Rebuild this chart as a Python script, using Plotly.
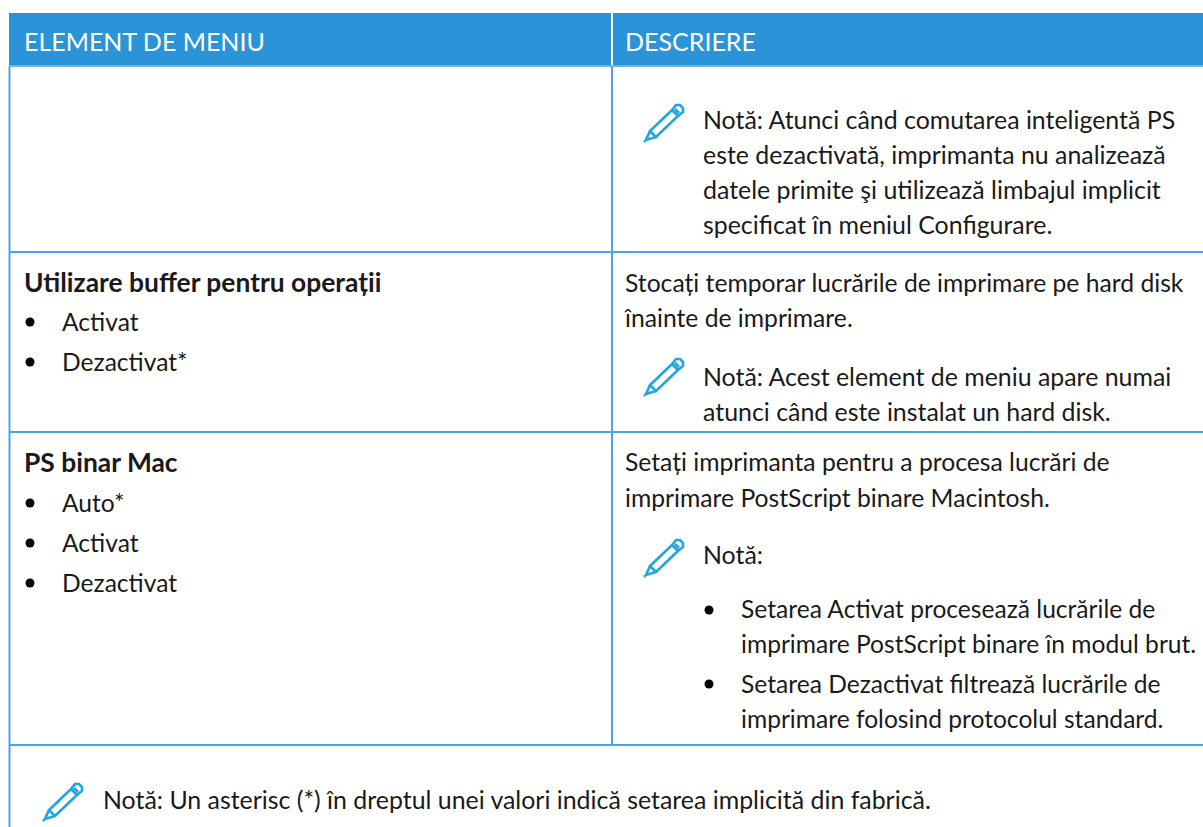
import plotly.graph_objects as go

WIDTH, HEIGHT = 1203, 827
FONT = "Lato"
BLUE_HEADER = "#2B93D7"
BLUE_LINE = "#4FA3DF"
PENCIL = "#1FA5DF"
INK = "#1a1a1a"

header_labels = ["ELEMENT DE MENIU", "DESCRIERE"]
menu_titles = ["Utilizare buffer pentru operații", "PS binar Mac"]
menu_items = ["Activat", "Dezactivat*", "Auto*", "Activat", "Dezactivat"]
descriptions = [
    "Stocați temporar lucrările de imprimare pe hard disk",
    "înainte de imprimare.",
    "Setați imprimanta pentru a procesa lucrări de",
    "imprimare PostScript binare Macintosh.",
]
notes = [
    "Notă: Atunci când comutarea inteligentă PS",
    "este dezactivată, imprimanta nu analizează",
    "datele primite şi utilizează limbajul implicit",
    "specificat în meniul Configurare.",
    "Notă: Acest element de meniu apare numai",
    "atunci când este instalat un hard disk.",
    "Notă:",
]
note_bullets = [
    "Setarea Activat procesează lucrările de",
    "imprimare PostScript binare în modul brut.",
    "Setarea Dezactivat filtrează lucrările de",
    "imprimare folosind protocolul standard.",
]
footer = ["Notă: Un asterisc (*) în dreptul unei valori indică setarea implicită din fabrică."]

# page layout, in page pixels
header_y = [45, 45]
header_x = [24, 625]
title_y = [285, 465]
item_y = [325, 365, 506, 546, 586]
desc_y = [286, 321, 465, 501]
note_y = [123, 158, 193, 228, 380, 415, 558]
note_bullet_y = [612, 647, 687, 722]
dot_y_items = [322, 362, 503, 543, 583]
note_bullet_dots = [610, 684]
pencils = [(644, 104), (644, 358), (644, 539), (43, 783)]
rules_y = [66, 252, 432, 745]

fig = go.Figure()

def text_trace(xs, ys, labels, size=24.6, family=FONT, color=INK):
    fig.add_trace(go.Scatter(x=xs, y=ys, text=labels, mode="text", textposition="middle right",
                             textfont=dict(family=family, size=size, color=color),
                             hoverinfo="skip", showlegend=False, cliponaxis=False))

def dots(xs, ys):
    fig.add_trace(go.Scatter(x=xs, y=ys, mode="markers", marker=dict(color="#000000", size=9),
                             hoverinfo="skip", showlegend=False))

text_trace(header_x, header_y, header_labels, size=25, color="#ffffff")
text_trace([24] * 2, title_y, ["<b>%s</b>" % t for t in menu_titles], size=26.4)
text_trace([62] * 5, item_y, menu_items)
text_trace([625] * 4, desc_y, descriptions, size=24.7)
text_trace([703] * 7, note_y, notes, size=24.9)
text_trace([741] * 4, note_bullet_y, note_bullets)
text_trace([103], [803], footer, size=24.9)
dots([30] * 5, dot_y_items)
dots([709] * 2, note_bullet_dots)

shapes = [
    dict(type="rect", x0=9, x1=WIDTH, y0=13, y1=66, fillcolor=BLUE_HEADER, line_width=0, layer="below"),
    dict(type="line", x0=612, x1=612, y0=13, y1=66, line=dict(color="#ffffff", width=2)),
    dict(type="line", x0=612, x1=612, y0=66, y1=745, line=dict(color=BLUE_LINE, width=2)),
    dict(type="line", x0=9.5, x1=9.5, y0=66, y1=HEIGHT, line=dict(color=BLUE_LINE, width=2)),
]
for y in rules_y:
    shapes.append(dict(type="line", x0=9, x1=WIDTH, y0=y, y1=y,
                       line=dict(color=BLUE_LINE if y != 66 else "#6DB5E6", width=2)))

def pencil_path(ox, oy):
    body = [(6, 27), (28, 6), (34, 12), (12, 33)]
    cap = [(28, 6), (32, 1), (36, 1), (39, 4), (39, 8), (34, 12)]
    tip = [(6, 27), (2, 36), (12, 33)]
    band = [(8, 29), (10, 31)]
    ring = [(31, 5), (35, 9)]
    out = ""
    for pts, close in ((body, True), (cap, False), (tip, False), (band, False), (ring, False)):
        out += "M " + " L ".join(f"{ox + a},{oy + b}" for a, b in pts) + (" Z " if close else " ")
    out += f"M {ox},{oy + 38} L {ox + 1},{oy + 37} "
    return out

for ox, oy in pencils:
    shapes.append(dict(type="path", path=pencil_path(ox, oy), line=dict(color=PENCIL, width=2.6)))

fig.update_layout(
    width=WIDTH, height=HEIGHT, margin=dict(l=0, r=0, t=0, b=0),
    paper_bgcolor="#ffffff", plot_bgcolor="#ffffff", shapes=shapes, showlegend=False,
    xaxis=dict(range=[0, WIDTH], visible=False, fixedrange=True),
    yaxis=dict(range=[HEIGHT, 0], visible=False, fixedrange=True),
)
fig.write_html("out.html", config=dict(displayModeBar=False),
               post_script="document.body.style.margin='0';")
